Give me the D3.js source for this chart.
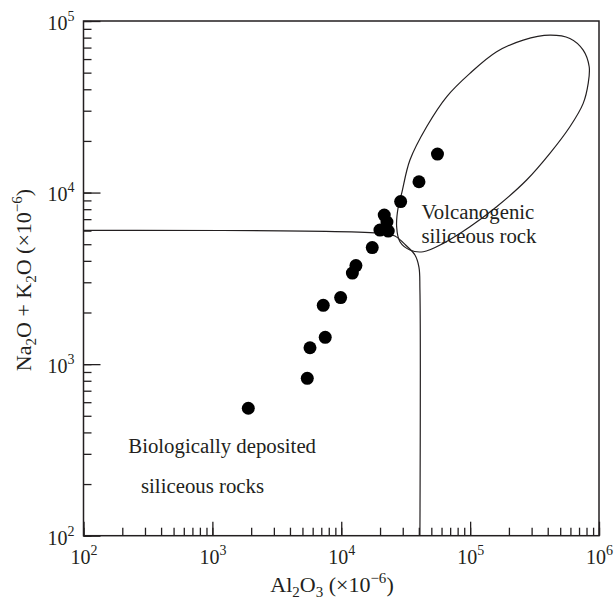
<!DOCTYPE html>
<html>
<head>
<meta charset="utf-8">
<script src="https://cdn.jsdelivr.net/npm/d3@7"></script>
<style>
  body { margin: 0; background: #fff; }
  text { font-family: "Liberation Serif", "Times New Roman", serif; fill: #231f20; }
</style>
</head>
<body>
<div id="container"></div>
<script>
/* DATA */
const al2o3  = [1900, 5450, 5720, 7510, 7250, 9890, 12200, 13000, 17400, 19970, 23150, 21560, 22620, 28900, 40100, 55800];
const alkali = [553, 827, 1246, 1433, 2201, 2444, 3395, 3754, 4780, 6046, 5965, 7393, 6731, 8862, 11560, 16770];

// field boundary: horizontal line, bend, vertical line
const boundaryX = [100, 21830, 26100, 32170, 37310, 40070, 40780, 40780];
const boundaryY = [6021, 5769, 5579, 4878, 4323, 3681, 2703, 100];

// volcanogenic field outline
const ellipseX = [26900, 27690, 29420, 34120, 45980, 65710, 99630, 160600, 258100, 415900, 594600, 754000,
  839400, 824500, 754000, 594600, 415900, 274400, 160600, 99630, 61840, 43280, 34120, 28540];
const ellipseY = [6320, 8264, 9893, 15470, 24180, 36160, 49500, 66150, 77400, 82770, 79150, 67680,
  54090, 43290, 33100, 24180, 16920, 11830, 8264, 6320, 5058, 4519, 4623, 5167];

const xMajor = [1e2, 1e3, 1e4, 1e5, 1e6];
const yMajor = [1e2, 1e3, 1e4, 1e5];

/* LAYOUT */
const width = 615, height = 602;
const margin = { top: 21, bottom: 66.3, left: 83.5, right: 16 };

const svg = d3.select("#container")
  .append("svg")
  .attr("width", width)
  .attr("height", height);

const xScale = d3.scaleLog().domain([1e2, 1e6]).range([margin.left, width - margin.right]);
const yScale = d3.scaleLog().domain([1e2, 1e5]).range([height - margin.bottom, margin.top]);

const x0 = xScale.range()[0], x1 = xScale.range()[1];
const y0 = yScale.range()[0], y1 = yScale.range()[1];

// minor ticks
svg.append("g")
  .attr("transform", `translate(0, ${y0})`)
  .call(d3.axisBottom(xScale).tickValues(xScale.ticks()).tickSize(-8).tickSizeOuter(0).tickFormat(""))
  .call(g => g.select(".domain").remove());

svg.append("g")
  .attr("transform", `translate(${x0}, 0)`)
  .call(d3.axisLeft(yScale).tickValues(yScale.ticks()).tickSize(-8).tickSizeOuter(0).tickFormat(""))
  .call(g => g.select(".domain").remove());

// major ticks + labels
const supLabel = (sel, v) => {
  sel.text(null);
  sel.append("tspan").text("10");
  sel.append("tspan").attr("font-size", 14).attr("dy", -9).text(Math.round(Math.log10(v)));
};

svg.append("g")
  .attr("transform", `translate(0, ${y0})`)
  .call(d3.axisBottom(xScale).tickValues(xMajor).tickSize(-14).tickSizeOuter(0).tickPadding(14))
  .call(g => g.select(".domain").remove())
  .call(g => g.selectAll(".tick text")
    .attr("font-size", 20)
    .attr("font-family", null)
    .attr("dy", "0.71em")
    .each(function(d) { supLabel(d3.select(this), d); }));

svg.append("g")
  .attr("transform", `translate(${x0}, 0)`)
  .call(d3.axisLeft(yScale).tickValues(yMajor).tickSize(-17).tickSizeOuter(0).tickPadding(9))
  .call(g => g.select(".domain").remove())
  .call(g => g.selectAll(".tick text")
    .attr("font-size", 20)
    .attr("font-family", null)
    .attr("dy", "0.42em")
    .each(function(d) { supLabel(d3.select(this), d); }));

svg.selectAll(".tick line").attr("stroke", "#231f20").attr("stroke-width", 1.3);

// frame
svg.append("rect")
  .attr("x", x0).attr("y", y1)
  .attr("width", x1 - x0).attr("height", y0 - y1)
  .attr("fill", "none")
  .attr("stroke", "#231f20")
  .attr("stroke-width", 1.5);

// boundaries
const boundary = boundaryX.map((d, i) => [d, boundaryY[i]]);
svg.append("path")
  .datum(boundary)
  .attr("fill", "none")
  .attr("stroke", "#231f20")
  .attr("stroke-width", 1.2)
  .attr("d", d3.line().x(d => xScale(d[0])).y(d => yScale(d[1])).curve(d3.curveCatmullRom.alpha(0.5)));

const outline = ellipseX.map((d, i) => [d, ellipseY[i]]);
svg.append("path")
  .datum(outline)
  .attr("fill", "none")
  .attr("stroke", "#231f20")
  .attr("stroke-width", 1.2)
  .attr("d", d3.line().x(d => xScale(d[0])).y(d => yScale(d[1])).curve(d3.curveCatmullRomClosed.alpha(0.5)));

// points
svg.selectAll(".dot")
  .data(al2o3.map((d, i) => ({ x: d, y: alkali[i] })))
  .join("circle")
  .attr("class", "dot")
  .attr("r", 6.5)
  .attr("cx", d => xScale(d.x))
  .attr("cy", d => yScale(d.y))
  .attr("fill", "#000");

// region labels
const labels = svg.append("g").attr("font-size", 20.8);
labels.append("text").attr("x", 421.5).attr("y", 218.5).text("Volcanogenic");
labels.append("text").attr("x", 421.5).attr("y", 243).text("siliceous rock");
labels.append("text").attr("x", 128.3).attr("y", 453.3).text("Biologically deposited");
labels.append("text").attr("x", 141).attr("y", 492.7).text("siliceous rocks");

// axis titles
const xt = svg.append("text")
  .attr("x", 332).attr("y", 592)
  .attr("text-anchor", "middle")
  .attr("font-size", 22);
xt.append("tspan").text("Al");
xt.append("tspan").attr("font-size", 15).attr("dy", 5).text("2");
xt.append("tspan").attr("dy", -5).text("O");
xt.append("tspan").attr("font-size", 15).attr("dy", 5).text("3");
xt.append("tspan").attr("dy", -5).text(" (\u00d710");
xt.append("tspan").attr("font-size", 15).attr("dy", -9).text("\u22126");
xt.append("tspan").attr("dy", 9).text(")");

const yt = svg.append("text")
  .attr("transform", "translate(31, 280) rotate(-90)")
  .attr("text-anchor", "middle")
  .attr("font-size", 22);
yt.append("tspan").text("Na");
yt.append("tspan").attr("font-size", 15).attr("dy", 5).text("2");
yt.append("tspan").attr("dy", -5).text("O + K");
yt.append("tspan").attr("font-size", 15).attr("dy", 5).text("2");
yt.append("tspan").attr("dy", -5).text("O (\u00d710");
yt.append("tspan").attr("font-size", 15).attr("dy", -9).text("\u22126");
yt.append("tspan").attr("dy", 9).text(")");
</script>
</body>
</html>
